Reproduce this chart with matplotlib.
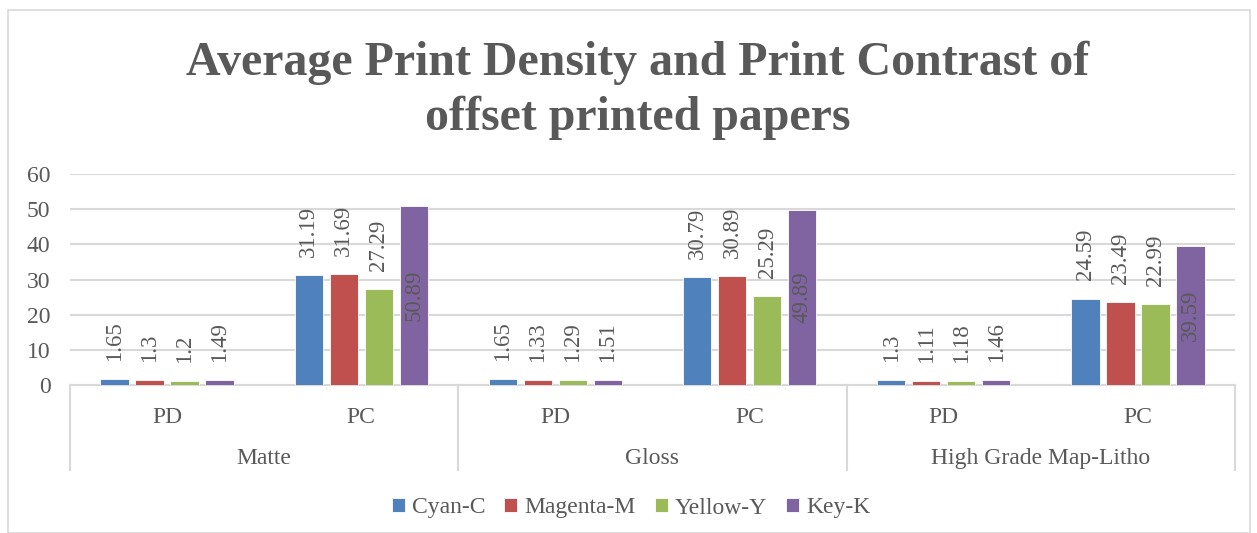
import numpy as np
import matplotlib.pyplot as plt
from matplotlib.patches import Rectangle
from matplotlib.lines import Line2D

plt.rcParams['font.family'] = ['Liberation Serif', 'DejaVu Serif']

# data
groups = ["Matte", "Gloss", "High Grade Map-Litho"]
measures = ["PD", "PC"]
series = ["Cyan-C", "Magenta-M", "Yellow-Y", "Key-K"]
cyan = [1.65, 31.19, 1.65, 30.79, 1.3, 24.59]
magenta = [1.3, 31.69, 1.33, 30.89, 1.11, 23.49]
yellow = [1.2, 27.29, 1.29, 25.29, 1.18, 22.99]
key = [1.49, 50.89, 1.51, 49.89, 1.46, 39.59]
colors = ["#4F81BD", "#C0504D", "#9BBB59", "#8064A2"]

TXT = "#595959"
GRID = "#D9D9D9"

fig = plt.figure(figsize=(12.57, 5.33), dpi=100)
W, H = 1257, 533
ax = fig.add_axes([70 / W, 1 - 385 / H, (1235 - 70) / W, (385 - 174) / H])

ncat = len(groups) * len(measures)
x = np.arange(ncat) + 0.5
width = 0.146
step = 0.18
offsets = (np.arange(4) - 1.5) * step

for vals, col, off, name in zip([cyan, magenta, yellow, key], colors, offsets, series):
    ax.bar(x + off, vals, width=width, color=col, label=name, zorder=3,
           edgecolor="white", linewidth=0.6)
    for xi, v in zip(x + off, vals):
        # labels that don't fit above the bar sit in its middle
        if v > 35:
            ax.text(xi, v / 2, f"{v:g}", rotation=90, ha="center", va="center",
                    fontsize=16.5, color=TXT, zorder=4)
        else:
            ax.annotate(f"{v:g}", (xi, v), xytext=(0, 13), textcoords="offset points",
                        rotation=90, ha="center", va="bottom", fontsize=16.5,
                        color=TXT, zorder=4)

ax.set_xlim(0, ncat)
ax.set_ylim(0, 60)
ax.set_yticks(np.arange(0, 61, 10))
ax.yaxis.grid(True, color=GRID, linewidth=1.5, zorder=0)
ax.set_xticks([])
ax.tick_params(axis="y", length=0, pad=14, labelsize=17, labelcolor=TXT)
for s in ["top", "right", "left"]:
    ax.spines[s].set_visible(False)
ax.spines["bottom"].set_color(GRID)
ax.spines["bottom"].set_linewidth(1.5)

# multi-level category axis
trans = ax.get_xaxis_transform()
for i in range(ncat):
    ax.text(x[i], -0.152, measures[i % 2], transform=trans, ha="center", va="center",
            fontsize=17, color=TXT)
for g, name in enumerate(groups):
    ax.text(2 * g + 1, -0.347, name, transform=trans, ha="center", va="center",
            fontsize=17, color=TXT)
for b in range(0, ncat + 1, 2):
    ax.add_line(Line2D([b, b], [0, -0.403], transform=trans, color=GRID,
                       linewidth=1.5, clip_on=False))

fig.text(0.5076, 0.83, "Average Print Density and Print Contrast of\noffset printed papers",
         ha="center", va="center", fontsize=34.5, fontweight="bold", color=TXT,
         linespacing=1.3)

fig.legend(loc="center", bbox_to_anchor=(0.502, 1 - 508 / H), ncol=4, frameon=False,
           fontsize=17, handlelength=0.55, handleheight=0.55, handletextpad=0.3,
           columnspacing=0.8, labelcolor=TXT)

fig.patches.append(Rectangle((8 / W, 0), (1250 - 8) / W, 1 - 10 / H,
                             transform=fig.transFigure, fill=False,
                             edgecolor=GRID, linewidth=1.2))

fig.savefig("out.png", dpi=100)
